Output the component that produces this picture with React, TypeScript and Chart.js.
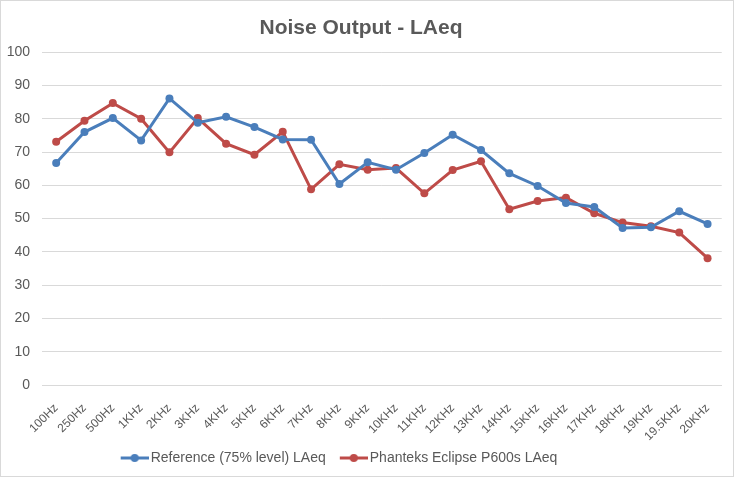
import React, { useEffect, useRef } from "react";
import { Chart, registerables } from "chart.js";

Chart.register(...registerables);

const categories = ["100Hz", "250Hz", "500Hz", "1KHz", "2KHz", "3KHz", "4KHz", "5KHz", "6KHz", "7KHz", "8KHz", "9KHz", "10KHz", "11KHz", "12KHz", "13KHz", "14KHz", "15KHz", "16KHz", "17KHz", "18KHz", "19KHz", "19.5KHz", "20KHz"];
const referenceLAeq = [66.7, 76, 80.2, 73.5, 86.1, 78.8, 80.6, 77.5, 73.8, 73.7, 60.4, 66.9, 64.7, 69.7, 75.2, 70.6, 63.6, 59.8, 54.7, 53.5, 47.2, 47.4, 52.2, 48.4];
const phanteksLAeq = [73.1, 79.4, 84.7, 80, 69.9, 80.2, 72.5, 69.2, 76.1, 58.8, 66.3, 64.7, 65.2, 57.6, 64.6, 67.2, 52.8, 55.3, 56.3, 51.6, 48.8, 47.7, 45.8, 38.1];
const seriesNames = ["Reference (75% level) LAeq", "Phanteks Eclipse P600s LAeq"];
const seriesColors = ["#4a7ebb", "#be4b48"];

const FONT = "'Liberation Sans', Arial, sans-serif";
const TEXT = "#595959";
const GRID = "#d9d9d9";

// line-with-dot swatch for the legend, like Excel's (transparent strip on the left
// gives the wider gap between legend entries)
const makeSwatch = (color: string) => {
	const c = document.createElement("canvas");
	c.width = 37;
	c.height = 10;
	const g = c.getContext("2d");
	if (g) {
		g.strokeStyle = color;
		g.lineWidth = 3;
		g.beginPath();
		g.moveTo(9, 5);
		g.lineTo(37, 5);
		g.stroke();
		g.fillStyle = color;
		g.beginPath();
		g.arc(23, 5, 4, 0, Math.PI * 2);
		g.fill();
	}
	return c;
};

const frame = {
	id: "frame",
	afterLayout(chart: any) {
		// excel sits the legend a bit left of centre
		if (chart.legend) {
			chart.legend.left -= 24;
			chart.legend.right -= 24;
		}
	},
	beforeDraw(chart: any) {
		const { ctx, width, height } = chart;
		ctx.save();
		ctx.fillStyle = "#ffffff";
		ctx.fillRect(0, 0, width, height);
		ctx.restore();
	},
	afterDraw(chart: any) {
		const { ctx, width, height } = chart;
		ctx.save();
		ctx.strokeStyle = GRID;
		ctx.lineWidth = 1;
		ctx.strokeRect(0.5, 0.5, width - 1, height - 1);
		ctx.restore();
	},
};

const App: React.FC = () => {
	const chartRef = useRef<HTMLCanvasElement | null>(null);

	useEffect(() => {
		document.body.style.margin = "0";
		if (!chartRef.current) return;
		const ctx = chartRef.current.getContext("2d");
		if (!ctx) return;
		const swatches = seriesColors.map(makeSwatch);
		const chartInstance = new Chart(ctx, {
			type: "line",
			data: {
				labels: categories,
				datasets: [referenceLAeq, phanteksLAeq].map((values, i) => ({
					label: seriesNames[i],
					data: values,
					borderColor: seriesColors[i],
					backgroundColor: seriesColors[i],
					borderWidth: 3,
					pointRadius: 4,
					pointBorderWidth: 0,
					pointBackgroundColor: seriesColors[i],
					tension: 0,
				})),
			},
			options: {
				animation: false,
				responsive: false,
				layout: { padding: { left: 0, right: 12, top: 0, bottom: 2 } },
				plugins: {
					title: {
						display: true,
						text: "Noise Output - LAeq",
						color: TEXT,
						font: { family: FONT, size: 21, weight: "bold" },
						padding: { top: 16, bottom: 11 },
					},
					legend: {
						position: "bottom",
						labels: {
							color: TEXT,
							font: { family: FONT, size: 14 },
							usePointStyle: true,
							pointStyleWidth: 27,
							boxHeight: 10,
							padding: 10,
							generateLabels: (chart: any) =>
								chart.data.datasets.map((ds: any, i: number) => ({
									text: ds.label,
									fillStyle: ds.borderColor,
									strokeStyle: ds.borderColor,
									lineWidth: 0,
									pointStyle: swatches[i],
									datasetIndex: i,
									fontColor: TEXT,
									hidden: false,
								})),
						},
					},
					tooltip: { enabled: false },
				},
				scales: {
					x: {
						offset: true,
						grid: { display: false, drawTicks: false },
						border: { display: true, color: GRID, width: 1 },
						ticks: {
							color: TEXT,
							font: { family: FONT, size: 12 },
							maxRotation: 45,
							minRotation: 45,
							autoSkip: false,
							padding: 16,
						},
						afterFit: (scale: any) => {
							scale.height = 56;
						},
					},
					y: {
						min: 0,
						max: 100,
						grid: { color: GRID, drawTicks: false },
						border: { display: false },
						ticks: {
							stepSize: 10,
							color: TEXT,
							font: { family: FONT, size: 14 },
							padding: 12,
						},
						afterFit: (scale: any) => {
							scale.width = 42;
						},
					},
				},
			},
			plugins: [frame],
		});
		return () => {
			chartInstance.destroy();
		};
	}, []);

	return <canvas ref={(ref) => { chartRef.current = ref; }} width={734} height={477} style={{ display: "block", width: 734, height: 477 }} />;
};

export default App;
